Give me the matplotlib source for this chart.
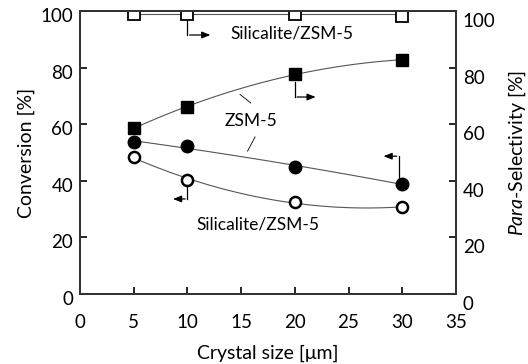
import numpy as np
import matplotlib.pyplot as plt
import matplotlib.transforms as mtransforms

plt.rcParams['font.family'] = ['Lato', 'DejaVu Sans']
plt.rcParams['mathtext.fontset'] = 'custom'
plt.rcParams['mathtext.it'] = 'Lato:italic'
plt.rcParams['mathtext.rm'] = 'Lato'

size = np.array([5, 10, 20, 30])
# conversion (left axis)
conv_zsm = np.array([53.7, 52.3, 44.9, 38.9])
conv_sil = np.array([48.4, 40.3, 32.5, 30.7])
# para-selectivity (right axis)
sel_zsm = np.array([58.7, 66.0, 77.7, 82.7])
sel_sil = np.array([99.0, 99.0, 99.0, 98.2])


def smooth(x, y, deg=2):
    c = np.polyfit(x, y, deg)
    xs = np.linspace(x.min(), x.max(), 100)
    return xs, np.polyval(c, xs)


fig = plt.figure(figsize=(5.28, 3.64), dpi=100)
ax = fig.add_axes([0.1515, 0.192, 0.712, 0.778])
ax2 = ax.twinx()

lc = '#555555'
xs, ys = smooth(size, conv_zsm)
ax.plot(xs, ys, color=lc, lw=0.8)
xs, ys = smooth(size, conv_sil)
ax.plot(xs, ys, color=lc, lw=0.8)
ax.plot(size, conv_zsm, 'o', ms=9, mfc='black', mec='black')
ax.plot(size, conv_sil, 'o', ms=8, mfc='white', mec='black', mew=1.8)

xs, ys = smooth(size, sel_zsm)
ax2.plot(xs, ys, color=lc, lw=0.8)
ax2.plot(size, np.full(4, sel_sil.mean()), color=lc, lw=0.8)
ax2.plot(size, sel_zsm, 's', ms=8, mfc='black', mec='black')
ax2.plot(size, sel_sil, 's', ms=8, mfc='white', mec='black', mew=1.3)

ax.set_xlim(0, 35)
ax.set_ylim(0, 100)
ax2.set_ylim(0, 100)
ax.set_xticks(np.arange(0, 36, 5))
ax.set_yticks(np.arange(0, 101, 20))
ax2.set_yticks(np.arange(0, 101, 20))

for a in (ax, ax2):
    a.tick_params(direction='in', labelsize=13.5, width=1.2, length=5)
    for s in a.spines.values():
        s.set_linewidth(1.4)
        s.set_color('#333333')
ax.tick_params(axis='x', pad=14)
ax.tick_params(axis='y', pad=5)
ax2.tick_params(axis='y', pad=5)

# the original tick labels sit a little below their ticks
for lab in ax.get_yticklabels():
    lab.set_transform(lab.get_transform() + mtransforms.ScaledTranslation(0, -4 / 100, fig.dpi_scale_trans))
for lab in ax2.get_yticklabels():
    lab.set_transform(lab.get_transform() + mtransforms.ScaledTranslation(0, -9 / 100, fig.dpi_scale_trans))

ax.set_xlabel('Crystal size [\u03bcm]', fontsize=14, labelpad=10)
ax.set_ylabel('Conversion [%]', fontsize=14, labelpad=4)
ax2.set_ylabel(r'$\it{Para}$-Selectivity [%]', fontsize=14, labelpad=8)

# arrows pointing to the relevant axis
akw = dict(color='black', lw=0.9)
hkw = dict(arrowstyle='-|>,head_length=0.5,head_width=0.2', color='black', lw=0.9)
ax.plot([10, 10], [98, 91.5], **akw)
ax.annotate('', xy=(12.4, 91.5), xytext=(9.95, 91.5), arrowprops=hkw)
ax.plot([20, 20], [75, 69.6], **akw)
ax.annotate('', xy=(22.2, 69.6), xytext=(19.95, 69.6), arrowprops=hkw)
ax.plot([29.7, 29.7], [40.5, 48.7], **akw)
ax.annotate('', xy=(28.0, 48.7), xytext=(29.75, 48.7), arrowprops=hkw)
ax.plot([10, 10], [38.5, 33.6], **akw)
ax.annotate('', xy=(8.4, 33.6), xytext=(10.05, 33.6), arrowprops=hkw)

# leader lines for ZSM-5 label
ax.plot([15.9, 14.9], [67.5, 70.5], color='black', lw=0.6)
ax.plot([16.3, 15.6], [55.5, 50.5], color='black', lw=0.6)

ax.text(19.7, 92, 'Silicalite/ZSM-5', fontsize=12.5, ha='center', va='center')
ax.text(15.9, 61.2, 'ZSM-5', fontsize=12.5, ha='center', va='center')
ax.text(16.6, 24.7, 'Silicalite/ZSM-5', fontsize=12.5, ha='center', va='center')

fig.savefig('out.png', dpi=100)
